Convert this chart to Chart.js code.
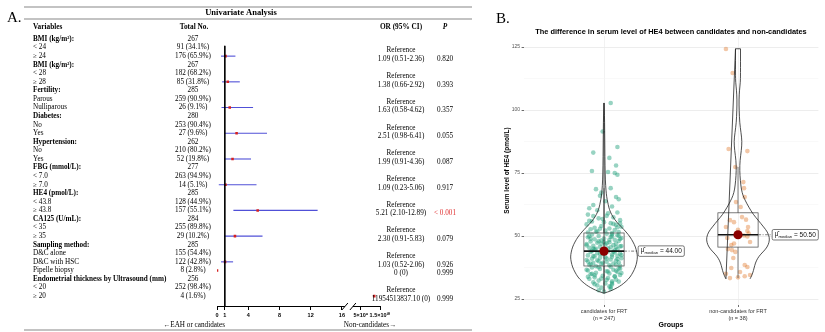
<!DOCTYPE html>
<html>
<head>
<meta charset="utf-8">
<script src="https://cdn.jsdelivr.net/npm/chart.js@4.4.1/dist/chart.umd.min.js"></script>
<style>
  body { margin: 0; background: #fff; }
  #wrapA { position: absolute; left: 0; top: 0; width: 490px; height: 332px; }
  #wrapB { position: absolute; left: 490px; top: 0; width: 335px; height: 332px; }
</style>
</head>
<body>
<div id="wrapA"><canvas id="forest" width="490" height="332"></canvas></div>
<div id="wrapB"><canvas id="violin" width="335" height="332"></canvas></div>
<script>
// ---- panel A: univariate analysis ----
const rowLabels = ['BMI (kg/m²):', '< 24', '≥ 24', 'BMI (kg/m²):', '< 28', '≥ 28', 'Fertility:', 'Parous', 'Nulliparous',
  'Diabetes:', 'No', 'Yes', 'Hypertension:', 'No', 'Yes', 'FBG (mmol/L):', '< 7.0', '≥ 7.0', 'HE4 (pmol/L):', '< 43.8', '≥ 43.8',
  'CA125 (U/mL):', '< 35', '≥ 35', 'Sampling method:', 'D&C alone', 'D&C with HSC', 'Pipelle biopsy',
  'Endometrial thickness by Ultrasound (mm)', '< 20', '≥ 20'];
const headerRows = [0, 3, 6, 9, 12, 15, 18, 21, 24, 28];
const totalNo = ['267', '91 (34.1%)', '176 (65.9%)', '267', '182 (68.2%)', '85 (31.8%)', '285', '259 (90.9%)', '26 (9.1%)',
  '280', '253 (90.4%)', '27 (9.6%)', '262', '210 (80.2%)', '52 (19.8%)', '277', '263 (94.9%)', '14 (5.1%)', '285', '128 (44.9%)', '157 (55.1%)',
  '284', '255 (89.8%)', '29 (10.2%)', '285', '155 (54.4%)', '122 (42.8%)', '8 (2.8%)', '256', '252 (98.4%)', '4 (1.6%)'];
const orLabels = ['', 'Reference', '1.09 (0.51-2.36)', '', 'Reference', '1.38 (0.66-2.92)', '', 'Reference', '1.63 (0.58-4.62)',
  '', 'Reference', '2.51 (0.98-6.41)', '', 'Reference', '1.99 (0.91-4.36)', '', 'Reference', '1.09 (0.23-5.06)', '', 'Reference', '5.21 (2.10-12.89)',
  '', 'Reference', '2.30 (0.91-5.83)', '', 'Reference', '1.03 (0.52-2.06)', '0 (0)', '', 'Reference', '11954513837.10 (0)'];
const pLabels = ['', '', '0.820', '', '', '0.393', '', '', '0.357', '', '', '0.055', '', '', '0.087', '', '', '0.917', '', '', '< 0.001',
  '', '', '0.079', '', '', '0.926', '0.999', '', '', '0.999'];
const orValues = [null, null, 1.09, null, null, 1.38, null, null, 1.63, null, null, 2.51, null, null, 1.99, null, null, 1.09, null, null, 5.21,
  null, null, 2.30, null, null, 1.03, 0, null, null, 11954513837.10];
const ciLow = [null, null, 0.51, null, null, 0.66, null, null, 0.58, null, null, 0.98, null, null, 0.91, null, null, 0.23, null, null, 2.10,
  null, null, 0.91, null, null, 0.52, null, null, null, null];
const ciHigh = [null, null, 2.36, null, null, 2.92, null, null, 4.62, null, null, 6.41, null, null, 4.36, null, null, 5.06, null, null, 12.89,
  null, null, 5.83, null, null, 2.06, null, null, null, null];
const axisTicks = [0, 1, 4, 8, 12, 16, 5e9, 1.5e10];
const axisTickLabels = ['0', '1', '4', '8', '12', '16', '5×10⁹', '1.5×10¹⁰'];

// broken axis: 0-16 linear, then a compressed segment for the huge OR
const breakAt = 16, resumeAt = 5e9, farStep = 1e10;
const toAxis = v => v <= breakAt ? v : breakAt + 2.44 + (v - resumeAt) / farStep * 2.44;

const serif = '"Liberation Serif", "Times New Roman", serif';
const sans = '"Liberation Sans", Arial, sans-serif';
const OR_SHIFT = 3;

const ciPlugin = {
  id: 'ci',
  beforeDatasetsDraw(chart) {
    const { ctx, scales: { x, y } } = chart;
    ctx.save();
    ctx.strokeStyle = 'rgb(80,80,215)';
    ctx.lineWidth = 1.1;
    ciLow.forEach((lo, i) => {
      if (lo === null) return;
      const py = y.getPixelForValue(i);
      ctx.beginPath();
      ctx.moveTo(x.getPixelForValue(toAxis(lo)), py);
      ctx.lineTo(x.getPixelForValue(toAxis(ciHigh[i])), py);
      ctx.stroke();
    });
    ctx.restore();
  }
};

const tablePlugin = {
  id: 'table',
  afterDraw(chart) {
    const { ctx, scales: { x, y } } = chart;
    ctx.save();
    ctx.fillStyle = '#000';
    ctx.textBaseline = 'middle';

    ctx.font = '15px ' + serif;
    ctx.textAlign = 'left';
    ctx.fillText('A.', 7, 18);

    ctx.strokeStyle = '#888';
    ctx.lineWidth = 1.2;
    [7, 19, 330].forEach(yy => {
      ctx.beginPath(); ctx.moveTo(24, yy); ctx.lineTo(472, yy); ctx.stroke();
    });

    ctx.font = 'bold 8.5px ' + serif;
    ctx.textAlign = 'center';
    ctx.fillText('Univariate Analysis', 241, 13);

    ctx.font = 'bold 7.3px ' + serif;
    ctx.textAlign = 'left';
    ctx.fillText('Variables', 33, 27);
    ctx.textAlign = 'center';
    ctx.fillText('Total No.', 194, 27);
    ctx.fillText('OR (95% CI)', 401, 27);
    ctx.font = 'italic bold 7.3px ' + serif;
    ctx.fillText('P', 445, 27);

    rowLabels.forEach((lab, i) => {
      const py = y.getPixelForValue(i);
      const bold = headerRows.includes(i);
      ctx.font = (bold ? 'bold ' : '') + '7.2px ' + serif;
      ctx.fillStyle = '#000';
      ctx.textAlign = 'left';
      ctx.fillText(lab, 33, py);
      ctx.font = '7.2px ' + serif;
      ctx.textAlign = 'center';
      ctx.fillText(totalNo[i], 193, py);
      if (orLabels[i]) ctx.fillText(orLabels[i], 401, py + OR_SHIFT);
      if (pLabels[i]) {
        ctx.fillStyle = pLabels[i].startsWith('<') ? '#e03030' : '#000';
        ctx.fillText(pLabels[i], 445, py + OR_SHIFT);
      }
    });

    // broken x axis line
    const by = chart.chartArea.bottom + 0.5;
    const x16 = x.getPixelForValue(breakAt);
    ctx.strokeStyle = '#000';
    ctx.lineWidth = 1;
    ctx.beginPath();
    ctx.moveTo(x.getPixelForValue(0), by); ctx.lineTo(x16 + 3, by);
    ctx.moveTo(x16 + 11, by); ctx.lineTo(x.getPixelForValue(toAxis(1.5e10)), by);
    [x16 + 3, x16 + 11].forEach(sx => { ctx.moveTo(sx - 3, by + 3.5); ctx.lineTo(sx + 3, by - 3.5); });
    ctx.stroke();

    ctx.fillStyle = '#000';
    ctx.font = '7.2px ' + serif;
    ctx.textAlign = 'center';
    ctx.fillText('\u2190EAH or candidates', 194, 325);
    ctx.fillText('Non-candidates\u2192', 370, 325);
    ctx.restore();
  }
};

const forestPoints = orValues.map((v, i) => v === null ? null : { x: toAxis(v), y: i }).filter(Boolean);

new Chart(document.getElementById('forest'), {
  type: 'scatter',
  data: {
    datasets: [
      { type: 'line', data: [{ x: 1, y: 0.8 }, { x: 1, y: 31.15 }], borderColor: '#000', borderWidth: 1, pointRadius: 0 },
      { data: forestPoints, pointStyle: 'rect', pointRadius: 1.8, backgroundColor: '#d62020', borderWidth: 0 }
    ]
  },
  options: {
    responsive: false,
    animation: false,
    events: [],
    layout: { padding: { left: 217, right: 110, top: 30.5, bottom: 0 } },
    plugins: { legend: { display: false }, tooltip: { enabled: false } },
    scales: {
      x: {
        type: 'linear', min: 0, max: toAxis(1.5e10),
        afterBuildTicks: s => { s.ticks = axisTicks.map(v => ({ value: toAxis(v) })); },
        afterFit: s => { s.height = 26; },
        ticks: { autoSkip: false, maxRotation: 0, padding: 2, color: '#000',
          font: { family: sans, size: 5.5, weight: 'bold' },
          callback: (v, i) => axisTickLabels[i] },
        grid: { drawOnChartArea: false, drawTicks: true, tickLength: 4, color: '#000', lineWidth: 1 },
        border: { display: false }
      },
      y: { type: 'linear', display: false, reverse: true, min: -0.99, max: 31.15 }
    }
  },
  plugins: [ciPlugin, tablePlugin]
});

// ---- panel B: HE4 by group ----
const groups = ['candidates for FRT', 'non-candidates for FRT'];
const groupN = ['(n = 247)', '(n = 38)'];
// [horizontal jitter, HE4 value]
const candidatePoints = [
  [0.05, 102.8], [-0.01, 91.5], [0.10, 85.3], [-0.08, 83.1], [0.04, 81.0], [0.09, 78.0], [-0.09, 75.8], [0.08, 75.0], [0.10, 74.3], [0.03, 75.4],
  [-0.06, 68.6], [0.05, 69.0], [-0.02, 67.2], [0.09, 65.5], [0.11, 64.6], [-0.08, 62.3], [0.10, 59.3], [-0.03, 66.0], [0.01, 63.8], [-0.11, 61.0],
  [0.06, 61.7], [-0.05, 60.2],
  [-0.12, 58.5], [0.02, 58.0], [0.07, 57.4], [-0.04, 57.0], [0.12, 56.3], [-0.09, 55.8], [0.00, 55.5], [0.05, 55.1], [-0.13, 54.6], [0.09, 54.4],
  [-0.02, 54.0], [0.13, 53.7], [-0.07, 53.3], [0.04, 53.0], [-0.10, 52.7], [0.08, 52.4], [0.01, 52.2], [-0.05, 51.9], [0.11, 51.6], [-0.12, 51.4],
  [0.06, 51.2], [-0.01, 56.7], [0.03, 59.0], [-0.08, 57.9], [0.10, 53.5], [-0.03, 52.9], [0.12, 55.0], [-0.11, 56.0], [0.07, 54.8], [-0.06, 51.7],
  [0.02, 50.9], [-0.09, 50.6], [0.10, 50.3], [-0.04, 50.0], [0.06, 49.8], [-0.12, 49.5], [0.13, 49.2], [0.00, 49.0], [-0.07, 48.7], [0.08, 48.5],
  [-0.02, 48.2], [0.11, 48.0], [-0.10, 47.8], [0.04, 47.5], [-0.05, 47.3], [0.09, 47.0], [-0.13, 46.8], [0.01, 46.6], [0.07, 46.4], [-0.08, 46.1],
  [0.12, 45.9], [-0.03, 45.7], [0.05, 45.5], [-0.11, 45.3], [0.03, 45.1], [-0.06, 44.9], [0.10, 44.7], [-0.01, 44.5], [0.08, 44.3], [-0.09, 44.1],
  [0.06, 50.7], [-0.11, 49.9], [0.12, 48.8], [-0.04, 47.9], [0.02, 47.1], [-0.13, 46.3], [0.09, 45.6], [-0.07, 44.6], [0.04, 48.4], [-0.02, 46.9],
  [0.11, 50.1], [-0.08, 45.0], [0.13, 46.0], [0.00, 47.6], [-0.10, 48.9], [0.05, 49.6],
  [0.03, 43.9], [-0.10, 43.7], [0.08, 43.5], [-0.05, 43.2], [0.12, 43.0], [-0.01, 42.8], [0.06, 42.6], [-0.12, 42.3], [0.10, 42.1], [-0.07, 41.9],
  [0.01, 41.6], [-0.03, 41.4], [0.13, 41.2], [-0.09, 41.0], [0.05, 40.7], [-0.13, 40.5], [0.09, 40.3], [-0.04, 40.0], [0.02, 39.8], [0.11, 39.6],
  [-0.08, 39.3], [0.07, 39.1], [-0.02, 38.9], [-0.11, 38.6], [0.04, 38.4], [0.12, 38.2], [-0.06, 38.0], [0.00, 43.4], [-0.08, 42.0], [0.10, 40.9],
  [-0.12, 39.9], [0.06, 41.8], [-0.03, 42.9], [0.09, 38.7], [-0.05, 40.4], [0.13, 42.4], [-0.10, 39.0], [0.02, 41.1], [0.07, 43.8], [-0.01, 39.4],
  [0.05, 37.8], [-0.09, 37.5], [0.11, 37.2], [-0.03, 36.9], [0.07, 36.6], [-0.12, 36.3], [0.02, 36.0], [0.10, 35.7], [-0.06, 35.4], [0.04, 35.1],
  [-0.10, 34.8], [0.12, 34.5], [-0.01, 34.2], [0.08, 33.9], [-0.07, 33.6], [0.03, 33.3], [-0.11, 33.0], [0.09, 32.7], [-0.04, 32.3], [0.06, 32.0],
  [-0.08, 31.6], [0.01, 31.2], [0.06, 30.8], [-0.05, 30.4], [0.04, 30.0], [-0.02, 29.5], [0.05, 29.0], [-0.04, 28.5], [0.00, 28.0], [0.12, 37.0],
  [-0.13, 36.6], [0.03, 35.9], [-0.09, 35.0], [0.08, 34.0], [-0.02, 33.1], [0.11, 31.9], [-0.07, 30.9], [0.05, 29.8], [-0.04, 37.6], [0.09, 36.2],
  [-0.07, 34.4], [0.02, 32.6], [0.13, 35.3], [-0.12, 33.8], [0.06, 31.4]
];
const noncandidatePoints = [
  [-0.09, 124.2], [-0.04, 114.7], [-0.07, 84.5], [0.07, 83.7], [-0.02, 77.4], [0.04, 71.4], [0.045, 69.0], [-0.015, 63.5], [0.05, 65.5], [0.02, 61.5],
  [-0.06, 56.3], [-0.03, 55.5], [-0.09, 53.6], [0.06, 56.5], [0.075, 53.6], [0.07, 52.0], [0.03, 57.5], [-0.08, 49.2], [0.09, 47.6], [-0.05, 46.4],
  [-0.03, 47.0], [-0.075, 44.8], [-0.045, 44.4], [-0.02, 43.7], [-0.035, 41.3], [-0.05, 37.3], [0.05, 38.5], [0.07, 37.7], [0.015, 35.7], [-0.06, 33.3],
  [0.0, 33.6], [0.09, 34.5], [0.05, 34.0], [-0.09, 35.0], [0.07, 49.8], [0.08, 51.0], [0.0, 52.5], [0.045, 50.2]
];
// violin outlines: HE4 level and relative density
const candViolinAt = [27.3, 27.8, 28.5, 29.5, 30.5, 32, 33.7, 35.7, 37.7, 39.7, 41.7, 43.6, 45.6, 47.6, 49.6, 51.6, 53.6, 55.5, 57.5, 59.5,
  61.5, 63.5, 65.5, 68, 72, 78, 85, 92, 98, 102.8];
const candViolinDensity = [0, 0.12, 0.25, 0.40, 0.52, 0.66, 0.78, 0.87, 0.94, 0.98, 1.0, 0.98, 0.94, 0.87, 0.78, 0.66, 0.52, 0.38, 0.27, 0.19,
  0.14, 0.11, 0.08, 0.06, 0.04, 0.03, 0.025, 0.02, 0.015, 0];
const nonViolinAt = [33.0, 33.5, 35.3, 37.3, 39.3, 41, 42.5, 44, 45.6, 47.5, 49.4, 51.6, 53.5, 56.3, 58.5, 61.5, 64, 66, 68.5, 72,
  76, 80, 84, 87.5, 91, 95, 100, 104, 108, 111, 114, 124.3];
const nonViolinDensity = [0.36, 0.38, 0.44, 0.48, 0.52, 0.58, 0.66, 0.77, 0.87, 0.93, 0.94, 0.88, 0.77, 0.60, 0.46, 0.32, 0.22, 0.15, 0.10, 0.07,
  0.05, 0.06, 0.10, 0.12, 0.09, 0.05, 0.035, 0.03, 0.045, 0.07, 0.075, 0.075];
const boxQ1 = [38.1, 45.6];
const boxMedian = [44.0, 50.5];
const boxQ3 = [51.2, 59.2];
const whiskerLow = [28.0, 33.3];
const whiskerHigh = [69.0, 77.4];
const medianLabels = ['44.00', '50.50'];

function smoothPath(ctx, pts) {
  ctx.moveTo(pts[0][0], pts[0][1]);
  for (let k = 1; k < pts.length - 1; k++) {
    const mx = (pts[k][0] + pts[k + 1][0]) / 2, my = (pts[k][1] + pts[k + 1][1]) / 2;
    ctx.quadraticCurveTo(pts[k][0], pts[k][1], mx, my);
  }
  const last = pts[pts.length - 1];
  ctx.lineTo(last[0], last[1]);
}

const violinPlugin = {
  id: 'violinShapes',
  afterDatasetsDraw(chart) {
    const { ctx, scales: { x, y } } = chart;
    const shapes = [[candViolinAt, candViolinDensity], [nonViolinAt, nonViolinDensity]];
    ctx.save();
    shapes.forEach(([at, dens], g) => {
      const c = g + 1;
      // box + whiskers
      const bl = x.getPixelForValue(c - 0.15), br = x.getPixelForValue(c + 0.15), cx = x.getPixelForValue(c);
      ctx.strokeStyle = '#444';
      ctx.lineWidth = 0.7;
      ctx.strokeRect(bl, y.getPixelForValue(boxQ3[g]), br - bl, y.getPixelForValue(boxQ1[g]) - y.getPixelForValue(boxQ3[g]));
      ctx.beginPath();
      ctx.moveTo(cx, y.getPixelForValue(boxQ3[g])); ctx.lineTo(cx, y.getPixelForValue(whiskerHigh[g]));
      ctx.moveTo(cx, y.getPixelForValue(boxQ1[g])); ctx.lineTo(cx, y.getPixelForValue(whiskerLow[g]));
      ctx.stroke();
      ctx.strokeStyle = '#111';
      ctx.lineWidth = 1.6;
      ctx.beginPath();
      ctx.moveTo(bl, y.getPixelForValue(boxMedian[g])); ctx.lineTo(br, y.getPixelForValue(boxMedian[g]));
      ctx.stroke();

      // violin
      const right = at.map((v, k) => [x.getPixelForValue(c + dens[k] * 0.25), y.getPixelForValue(v)]);
      const left = at.map((v, k) => [x.getPixelForValue(c - dens[k] * 0.25), y.getPixelForValue(v)]).reverse();
      ctx.beginPath();
      smoothPath(ctx, right);
      ctx.lineTo(left[0][0], left[0][1]);
      smoothPath(ctx, left);
      ctx.closePath();
      ctx.strokeStyle = '#222';
      ctx.lineWidth = 0.8;
      ctx.stroke();

      // median marker + label
      const my = y.getPixelForValue(boxMedian[g]);
      const lx = x.getPixelForValue(c + 0.255);
      ctx.setLineDash([3, 1.5, 1, 1.5]);
      ctx.strokeStyle = '#444';
      ctx.lineWidth = 0.7;
      ctx.beginPath(); ctx.moveTo(br, my); ctx.lineTo(lx, my); ctx.stroke();
      ctx.setLineDash([]);
      ctx.beginPath();
      ctx.arc(cx, my, 4.6, 0, Math.PI * 2);
      ctx.fillStyle = '#8b0000';
      ctx.fill();

      ctx.font = '6.5px ' + sans;
      const w1 = ctx.measureText('μ̂').width;
      ctx.font = '4.2px ' + sans;
      const w2 = ctx.measureText('median').width;
      ctx.font = '6.5px ' + sans;
      const tail = ' = ' + medianLabels[g];
      const w3 = ctx.measureText(tail).width;
      const bw = w1 + w2 + w3 + 5, bh = 10.5;
      ctx.beginPath();
      ctx.roundRect(lx, my - bh / 2, bw, bh, 1.5);
      ctx.fillStyle = '#fff';
      ctx.fill();
      ctx.strokeStyle = '#222';
      ctx.lineWidth = 0.6;
      ctx.stroke();
      ctx.fillStyle = '#111';
      ctx.textBaseline = 'middle';
      ctx.textAlign = 'left';
      ctx.fillText('μ̂', lx + 2.5, my - 0.5);
      ctx.font = '4.2px ' + sans;
      ctx.fillText('median', lx + 2.5 + w1, my + 1.8);
      ctx.font = '6.5px ' + sans;
      ctx.fillText(tail, lx + 2.5 + w1 + w2, my);
    });

    ctx.fillStyle = '#000';
    ctx.textAlign = 'center';
    ctx.textBaseline = 'middle';
    ctx.font = 'bold 7.4px ' + sans;
    ctx.fillText('The difference in serum level of HE4 between candidates and non-candidates',
      (chart.chartArea.left + chart.chartArea.right) / 2, 32);
    ctx.font = '15px ' + serif;
    ctx.textAlign = 'left';
    ctx.fillText('B.', 6, 19);
    ctx.restore();
  }
};

new Chart(document.getElementById('violin'), {
  type: 'scatter',
  data: {
    datasets: [
      { data: candidatePoints.map(([j, v]) => ({ x: 1 + j, y: v })), pointRadius: 2.3, borderWidth: 0,
        backgroundColor: 'rgba(27,158,119,0.45)' },
      { data: noncandidatePoints.map(([j, v]) => ({ x: 2 + j, y: v })), pointRadius: 2.3, borderWidth: 0,
        backgroundColor: 'rgba(217,95,2,0.35)' }
    ]
  },
  options: {
    responsive: false,
    animation: false,
    events: [],
    layout: { padding: { left: 0, right: 6.6, top: 36, bottom: 0 } },
    plugins: { legend: { display: false }, tooltip: { enabled: false } },
    scales: {
      x: {
        type: 'linear', min: 0.4, max: 2.6,
        afterBuildTicks: s => { s.ticks = [{ value: 1 }, { value: 2 }]; },
        afterFit: s => { s.height = 27; },
        ticks: { autoSkip: false, maxRotation: 0, padding: 1, color: '#333',
          font: { family: sans, size: 5.5, lineHeight: 1.25 },
          callback: (v, i) => [groups[i], groupN[i]] },
        grid: { color: '#ececec', lineWidth: 0.7, tickColor: '#333', tickLength: 2 },
        border: { display: false },
        title: { display: true, text: 'Groups', color: '#000', font: { family: sans, size: 7, weight: 'bold' },
          padding: { top: 0, bottom: 2.8 } }
      },
      y: {
        type: 'linear', min: 22.62, max: 129.37,
        afterBuildTicks: s => { s.ticks = [25, 37.5, 50, 62.5, 75, 87.5, 100, 112.5, 125].map(v => ({ value: v })); },
        afterFit: s => { s.width = 33.6; },
        ticks: { padding: 1.5, color: '#555', font: { family: sans, size: 5 },
          callback: v => v % 25 === 0 ? String(v) : '' },
        grid: {
          color: c => c.tick && c.tick.value % 25 === 0 ? '#e8e8e8' : '#f3f3f3',
          lineWidth: c => c.tick && c.tick.value % 25 === 0 ? 0.8 : 0.5,
          tickColor: c => c.tick && c.tick.value % 25 === 0 ? '#444' : 'rgba(0,0,0,0)',
          tickLength: 2
        },
        border: { display: false },
        title: { display: true, text: 'Serum level of HE4 (pmol/L)', color: '#000',
          font: { family: sans, size: 6.5, weight: 'bold' }, padding: { top: 13, bottom: 0 } }
      }
    }
  },
  plugins: [violinPlugin]
});
</script>
</body>
</html>
